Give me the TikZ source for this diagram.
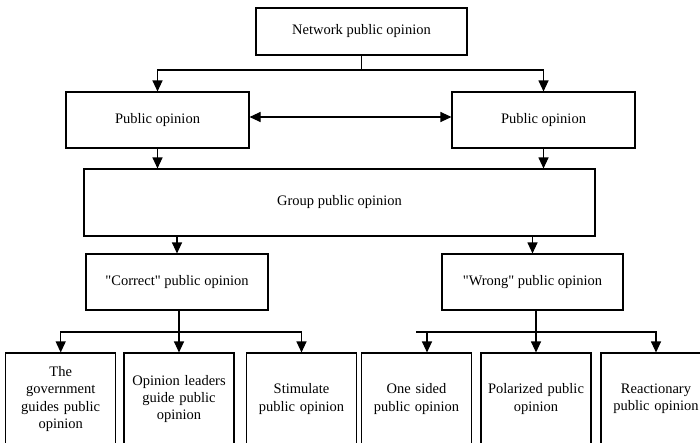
\documentclass[tikz,border=0pt]{standalone}
\usepackage{fontspec}
\setmainfont{Liberation Serif}
\usetikzlibrary{arrows.meta}
\begin{document}
\begin{tikzpicture}[x=1pt,y=-1pt,
  box/.style={draw,line width=1.1pt,inner sep=0pt,align=center,
    font=\fontsize{14.5}{17.3}\selectfont},
  leaf/.style={box,minimum width=110pt,minimum height=92pt,text width=106pt},
  link/.style={line width=1.1pt},
  tip/.style={Triangle[length=11pt,width=10pt]},
  arr/.style={link,-{Triangle[length=11pt,width=10pt]}},
  arrboth/.style={link,{Triangle[length=11pt,width=10pt]}-{Triangle[length=11pt,width=10pt]}}]
\useasboundingbox (0,0) rectangle (700,442);
\clip (0,0) rectangle (700,442);

% boxes
\node[box,minimum width=211pt,minimum height=47pt] (net) at (361.5,31.5) {Network public opinion};
\node[box,minimum width=183pt,minimum height=56pt] (po1) at (157.5,120) {Public opinion};
\node[box,minimum width=183pt,minimum height=56pt] (po2) at (543.5,120) {Public opinion};
\node[box,minimum width=511pt,minimum height=67pt] (grp) at (339.5,202.5) {Group public opinion};
\node[box,minimum width=182pt,minimum height=56pt] (cor) at (177,282) {\textquotedbl Correct\textquotedbl{} public opinion};
\node[box,minimum width=181pt,minimum height=56pt] (wro) at (532.5,282) {\textquotedbl Wrong\textquotedbl{} public opinion};

\node[leaf] (b1) at (60.7,399) {The\\government\\guides public\\opinion};
\node[leaf] (b2) at (179,399) {Opinion leaders\\guide public\\opinion};
\node[leaf] (b3) at (301.5,399) {Stimulate\\public opinion};
\node[leaf] (b4) at (416.5,399) {One sided\\public opinion};
\node[leaf] (b5) at (536,399) {Polarized public\\opinion};
\node[leaf] (b6) at (656,399) {Reactionary\\public opinion};

% junctions
\coordinate (j1) at (361.5,70);
\coordinate (j2) at (179,332);
\coordinate (j3) at (536,332);
\coordinate (j4) at (416,332);
\coordinate (j5) at (427,332);

% connectors
\draw[link] (net.south) -- (j1);
\draw[arr] (j1) -| (po1.north);
\draw[arr] (j1) -| (po2.north);
\draw[arrboth] ([yshift=3pt]po1.east) -- ([yshift=3pt]po2.west);
\draw[arr] (po1.south) -- (po1.south |- grp.north);
\draw[arr] (po2.south) -- (po2.south |- grp.north);
\draw[arr] (cor.north |- grp.south) -- (cor.north);
\draw[arr] (wro.north |- grp.south) -- (wro.north);

\draw[link] (cor.south -| j2) -- (j2);
\draw[arr] (j2) -| (b1.north);
\draw[arr] (j2) -- (b2.north);
\draw[arr] (j2) -| (b3.north);

\draw[link] (wro.south -| j3) -- (j3);
\draw[link] (j3) -- (j4);
\draw[arr] (j5) -- (j5 |- b4.north);
\draw[arr] (j3) -- (b5.north);
\draw[arr] (j3) -| (b6.north);
\end{tikzpicture}
\end{document}
